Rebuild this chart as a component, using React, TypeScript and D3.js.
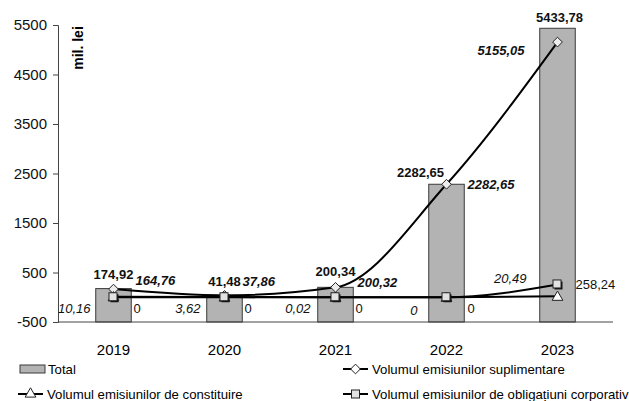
import React, { useEffect, useRef } from 'react';
import * as d3 from 'd3';

const years = ['2019', '2020', '2021', '2022', '2023'];
const total = [174.92, 41.48, 200.34, 2282.65, 5433.78];
const suplimentare = [164.76, 37.86, 200.32, 2282.65, 5155.05];
const constituire = [10.16, 3.62, 0.02, 0, 20.49];
const corporative = [0, 0, 0, 0, 258.24];
const yTicks = [-500, 500, 1500, 2500, 3500, 4500, 5500];

const W = 629;
const H = 401;
const FONT = '"Liberation Sans", Arial, sans-serif';

const fmt = (v: number) => (v === 0 ? '0' : v.toFixed(2).replace('.', ','));

const App: React.FC = () => {
  const svgRef = useRef<SVGSVGElement | null>(null);

  useEffect(() => {
    const svg = d3.select(svgRef.current);
    svg.selectAll('*').remove();

    const x = d3.scaleBand<string>().domain(years).range([58, 613]).padding(0);
    const y = d3.scaleLinear().domain([-500, 5500]).range([322, 25]);
    const cx = (i: number) => (x(years[i]) as number) + x.bandwidth() / 2;
    const barW = x.bandwidth() * 0.32;

    // y axis
    const yAxis = svg
      .append('g')
      .attr('transform', 'translate(58,0)')
      .call(d3.axisLeft(y).tickValues(yTicks).tickSize(5).tickPadding(6).tickFormat(d => String(d)));
    yAxis.select('.domain').attr('stroke', '#444');
    yAxis.selectAll('line').attr('stroke', '#444');
    yAxis.selectAll('text').attr('font-family', FONT).attr('font-size', 15).attr('fill', '#111');

    svg
      .append('text')
      .attr('transform', 'translate(83,48) rotate(-90)')
      .attr('text-anchor', 'middle')
      .attr('font-family', FONT)
      .attr('font-weight', 'bold')
      .attr('font-size', 14)
      .text('mil. lei');

    // bars
    svg
      .append('g')
      .selectAll('rect')
      .data(total)
      .enter()
      .append('rect')
      .attr('x', (_, i) => cx(i) - barW / 2)
      .attr('width', barW)
      .attr('y', d => y(d))
      .attr('height', d => y(-500) - y(d))
      .attr('fill', '#b3b3b3')
      .attr('stroke', '#3a3a3a')
      .attr('stroke-width', 1);

    // x axis line + labels
    svg.append('line').attr('x1', 58).attr('x2', 613).attr('y1', y(-500)).attr('y2', y(-500)).attr('stroke', '#444');
    svg
      .append('g')
      .selectAll('text')
      .data(years)
      .enter()
      .append('text')
      .attr('x', (_, i) => cx(i))
      .attr('y', 355)
      .attr('text-anchor', 'middle')
      .attr('font-family', FONT)
      .attr('font-size', 15)
      .text(d => d);

    const line = d3
      .line<number>()
      .x((_, i) => cx(i))
      .y(d => y(d))
      .curve(d3.curveMonotoneX);

    const drawLine = (data: number[]) =>
      svg.append('path').attr('d', line(data)).attr('fill', 'none').attr('stroke', '#000').attr('stroke-width', 2);

    const diamond = d3.symbol().type(d3.symbolDiamond2).size(60);
    const tri = d3.symbol().type(d3.symbolTriangle).size(50);

    // suplimentare
    drawLine(suplimentare);
    svg
      .append('g')
      .selectAll('path')
      .data(suplimentare)
      .enter()
      .append('path')
      .attr('d', diamond())
      .attr('transform', (d, i) => `translate(${cx(i)},${y(d)})`)
      .attr('fill', '#ececec')
      .attr('stroke', '#222')
      .attr('stroke-width', 1);

    // constituire
    drawLine(constituire);
    svg
      .append('g')
      .selectAll('path')
      .data(constituire)
      .enter()
      .append('path')
      .attr('d', tri())
      .attr('transform', (d, i) => `translate(${cx(i)},${y(d) + 1})`)
      .attr('fill', '#fff')
      .attr('stroke', '#222')
      .attr('stroke-width', 1);

    // corporative
    drawLine(corporative);
    const sq = svg.append('g').selectAll('g').data(corporative).enter().append('g');
    sq.append('rect')
      .attr('x', (_, i) => cx(i) - 3)
      .attr('y', d => y(d) - 3)
      .attr('width', 8)
      .attr('height', 8)
      .attr('fill', '#111');
    sq.append('rect')
      .attr('x', (_, i) => cx(i) - 4.5)
      .attr('y', d => y(d) - 4.5)
      .attr('width', 8)
      .attr('height', 8)
      .attr('fill', '#e2e2e2')
      .attr('stroke', '#222')
      .attr('stroke-width', 1);

    // data labels
    const labels = (
      data: number[],
      dx: number[],
      dy: number[],
      weight: string,
      style: string,
      anchor?: string
    ) =>
      svg
        .append('g')
        .selectAll('text')
        .data(data)
        .enter()
        .append('text')
        .attr('x', (_, i) => cx(i) + dx[i])
        .attr('y', (d, i) => y(d) + dy[i])
        .attr('text-anchor', (_, i) => anchor || (dx[i] > 0 ? 'start' : 'end'))
        .attr('font-family', FONT)
        .attr('font-size', 13)
        .attr('font-weight', weight)
        .attr('font-style', style)
        .attr('fill', '#111')
        .text(d => fmt(d));

    labels(total, [0, 0, 0, -26, 2], [-10, -9, -11, -7, -6], 'bold', 'normal', 'middle');
    labels(suplimentare, [22, 18, 22, 21, -33], [-4, -9, 0, 5, 13], 'bold', 'italic');
    labels(constituire, [-23, -24, -25, -29, -31], [16, 16, 16, 18, -13], 'normal', 'italic');
    labels(corporative, [20, 20, 20, 21, 18], [16, 16, 16, 16, 5], 'normal', 'normal');

    // legend
    const leg = svg.append('g').attr('font-family', FONT).attr('font-size', 13.2);
    leg.append('rect').attr('x', 20).attr('y', 365).attr('width', 25).attr('height', 8).attr('fill', '#b3b3b3').attr('stroke', '#3a3a3a');
    leg.append('text').attr('x', 48).attr('y', 374).text('Total');

    const legLine = (x0: number, yc: number, label: string, kind: string) => {
      leg.append('line').attr('x1', x0).attr('x2', x0 + 25).attr('y1', yc).attr('y2', yc).attr('stroke', '#000').attr('stroke-width', 2);
      const m = x0 + 12.5;
      if (kind === 'diamond') {
        leg.append('path').attr('d', diamond()).attr('transform', `translate(${m},${yc})`).attr('fill', '#fff').attr('stroke', '#222');
      } else if (kind === 'tri') {
        leg.append('path').attr('d', tri()).attr('transform', `translate(${m},${yc})`).attr('fill', '#fff').attr('stroke', '#222');
      } else {
        leg.append('rect').attr('x', m - 4).attr('y', yc - 4).attr('width', 8).attr('height', 8).attr('fill', '#e2e2e2').attr('stroke', '#222');
      }
      leg.append('text').attr('x', x0 + 29).attr('y', yc + 5).text(label);
    };
    legLine(343, 369, 'Volumul emisiunilor suplimentare', 'diamond');
    legLine(18, 394, 'Volumul emisiunilor de constituire', 'tri');
    legLine(343, 394, 'Volumul emisiunilor de obligațiuni corporativ', 'square');
  }, []);

  return (
    <svg
      ref={svgRef}
      width={W}
      height={H}
      style={{ position: 'absolute', left: 0, top: 0, background: '#fff' }}
    />
  );
};

export default App;
